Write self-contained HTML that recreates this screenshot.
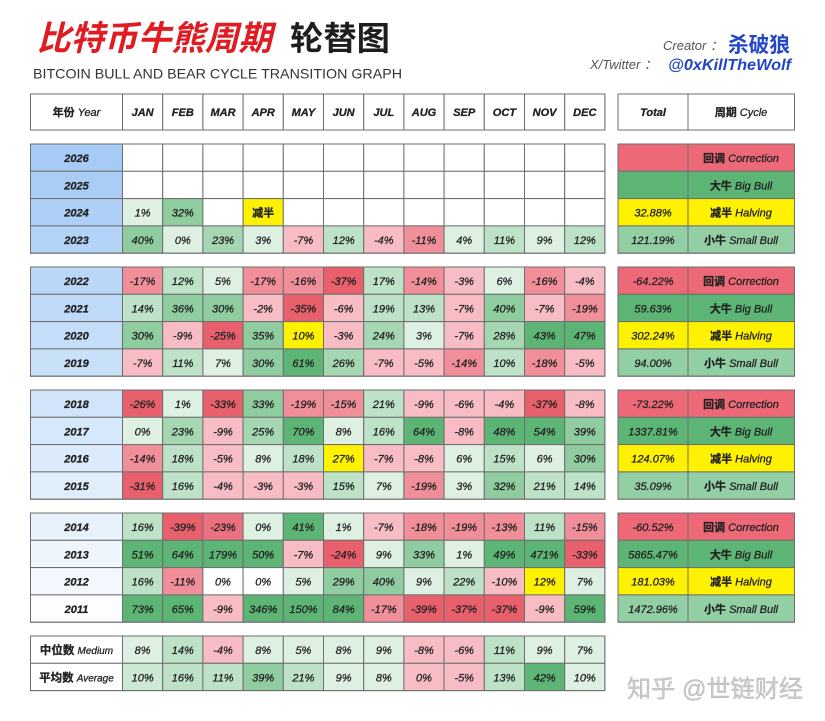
<!DOCTYPE html>
<html><head><meta charset="utf-8">
<style>
html,body{margin:0;padding:0;background:#fff;}
svg{display:block;}
text{font-family:"Liberation Sans","Noto Sans CJK SC",sans-serif;font-size:11px;font-style:italic;fill:#222;text-anchor:middle;}
g text{stroke:#222;stroke-width:0.28px;}
.b{font-weight:bold;}
.n{font-style:normal;font-weight:bold;}
rect{stroke:#6e6e6e;stroke-width:1;}
.w{fill:#fff}.vg{fill:#ddf0e2}.lg{fill:#bde2c7}.lm{fill:#a6d7b3}.mg{fill:#8fcc9f}.sg{fill:#5cb574}
.lp{fill:#f8bcc4}.mp{fill:#f08f9a}.sr{fill:#e9606d}.y{fill:#fff200}
.crr{fill:#ed6977}.big{fill:#5cb574}.sm{fill:#93cfa5}
</style></head>
<body>
<svg width="825" height="721" viewBox="0 0 825 721" xmlns="http://www.w3.org/2000/svg">
<!-- Titles -->
<text x="37" y="50" style="font-size:34px;font-weight:bold;fill:#e01b22;text-anchor:start" textLength="235" lengthAdjust="spacingAndGlyphs">比特币牛熊周期</text>
<text x="290" y="50" style="font-size:33px;font-weight:bold;font-style:normal;fill:#1e1e1e;text-anchor:start" textLength="100" lengthAdjust="spacingAndGlyphs">轮替图</text>
<text x="33" y="78.5" style="font-size:14px;font-style:normal;fill:#333;text-anchor:start" textLength="369" lengthAdjust="spacingAndGlyphs">BITCOIN BULL AND BEAR CYCLE TRANSITION GRAPH</text>
<text x="663" y="50" style="font-size:13px;fill:#555;text-anchor:start">Creator ：</text>
<text x="728" y="52" style="font-size:21px;font-weight:bold;font-style:normal;fill:#2347c4;text-anchor:start" textLength="62" lengthAdjust="spacingAndGlyphs">杀破狼</text>
<text x="590" y="69" style="font-size:13px;fill:#555;text-anchor:start">X/Twitter ：</text>
<text x="668" y="70" style="font-size:16px;font-weight:bold;fill:#2347c4;text-anchor:start" textLength="123" lengthAdjust="spacingAndGlyphs">@0xKillTheWolf</text>

<!-- Header row -->
<g transform="translate(0,94)">
<rect class="w" x="30.5" y="0" width="92" height="36"/><text x="76.5" y="22"><tspan class="n">年份</tspan> Year</text>
<rect class="w" x="122.5" y="0" width="40.2" height="36"/><text class="b" x="142.6" y="22">JAN</text>
<rect class="w" x="162.7" y="0" width="40.2" height="36"/><text class="b" x="182.8" y="22">FEB</text>
<rect class="w" x="202.9" y="0" width="40.2" height="36"/><text class="b" x="223" y="22">MAR</text>
<rect class="w" x="243.1" y="0" width="40.2" height="36"/><text class="b" x="263.2" y="22">APR</text>
<rect class="w" x="283.3" y="0" width="40.2" height="36"/><text class="b" x="303.4" y="22">MAY</text>
<rect class="w" x="323.5" y="0" width="40.2" height="36"/><text class="b" x="343.6" y="22">JUN</text>
<rect class="w" x="363.7" y="0" width="40.2" height="36"/><text class="b" x="383.8" y="22">JUL</text>
<rect class="w" x="403.9" y="0" width="40.2" height="36"/><text class="b" x="424" y="22">AUG</text>
<rect class="w" x="444.1" y="0" width="40.2" height="36"/><text class="b" x="464.2" y="22">SEP</text>
<rect class="w" x="484.3" y="0" width="40.2" height="36"/><text class="b" x="504.4" y="22">OCT</text>
<rect class="w" x="524.5" y="0" width="40.2" height="36"/><text class="b" x="544.6" y="22">NOV</text>
<rect class="w" x="564.7" y="0" width="40.2" height="36"/><text class="b" x="584.8" y="22">DEC</text>
<rect class="w" x="618" y="0" width="70" height="36"/><text class="b" x="653" y="22">Total</text>
<rect class="w" x="688" y="0" width="106.5" height="36"/><text x="741" y="22"><tspan class="n">周期</tspan> Cycle</text>
</g>

<!-- 2026 -->
<g transform="translate(0,144)">
<rect style="fill:#a6cbf5" x="30.5" y="0" width="92" height="27.3"/><text class="b" x="76.5" y="18">2026</text>
<rect class="w" x="122.5" y="0" width="40.2" height="27.3"/><rect class="w" x="162.7" y="0" width="40.2" height="27.3"/><rect class="w" x="202.9" y="0" width="40.2" height="27.3"/><rect class="w" x="243.1" y="0" width="40.2" height="27.3"/><rect class="w" x="283.3" y="0" width="40.2" height="27.3"/><rect class="w" x="323.5" y="0" width="40.2" height="27.3"/><rect class="w" x="363.7" y="0" width="40.2" height="27.3"/><rect class="w" x="403.9" y="0" width="40.2" height="27.3"/><rect class="w" x="444.1" y="0" width="40.2" height="27.3"/><rect class="w" x="484.3" y="0" width="40.2" height="27.3"/><rect class="w" x="524.5" y="0" width="40.2" height="27.3"/><rect class="w" x="564.7" y="0" width="40.2" height="27.3"/>
<rect class="crr" x="618" y="0" width="70" height="27.3"/>
<rect class="crr" x="688" y="0" width="106.5" height="27.3"/><text x="741" y="18"><tspan class="n">回调</tspan> Correction</text>
</g>
<!-- 2025 -->
<g transform="translate(0,171.3)">
<rect style="fill:#aacdf5" x="30.5" y="0" width="92" height="27.3"/><text class="b" x="76.5" y="18">2025</text>
<rect class="w" x="122.5" y="0" width="40.2" height="27.3"/><rect class="w" x="162.7" y="0" width="40.2" height="27.3"/><rect class="w" x="202.9" y="0" width="40.2" height="27.3"/><rect class="w" x="243.1" y="0" width="40.2" height="27.3"/><rect class="w" x="283.3" y="0" width="40.2" height="27.3"/><rect class="w" x="323.5" y="0" width="40.2" height="27.3"/><rect class="w" x="363.7" y="0" width="40.2" height="27.3"/><rect class="w" x="403.9" y="0" width="40.2" height="27.3"/><rect class="w" x="444.1" y="0" width="40.2" height="27.3"/><rect class="w" x="484.3" y="0" width="40.2" height="27.3"/><rect class="w" x="524.5" y="0" width="40.2" height="27.3"/><rect class="w" x="564.7" y="0" width="40.2" height="27.3"/>
<rect class="big" x="618" y="0" width="70" height="27.3"/>
<rect class="big" x="688" y="0" width="106.5" height="27.3"/><text x="741" y="18"><tspan class="n">大牛</tspan> Big Bull</text>
</g>
<!-- 2024 -->
<g transform="translate(0,198.6)">
<rect style="fill:#aecff6" x="30.5" y="0" width="92" height="27.3"/><text class="b" x="76.5" y="18">2024</text>
<rect class="vg" x="122.5" y="0" width="40.2" height="27.3"/><text x="142.6" y="18">1%</text>
<rect class="mg" x="162.7" y="0" width="40.2" height="27.3"/><text x="182.8" y="18">32%</text>
<rect class="w" x="202.9" y="0" width="40.2" height="27.3"/>
<rect class="y" x="243.1" y="0" width="40.2" height="27.3"/><text class="n" x="263.2" y="18">减半</text>
<rect class="w" x="283.3" y="0" width="40.2" height="27.3"/><rect class="w" x="323.5" y="0" width="40.2" height="27.3"/><rect class="w" x="363.7" y="0" width="40.2" height="27.3"/><rect class="w" x="403.9" y="0" width="40.2" height="27.3"/><rect class="w" x="444.1" y="0" width="40.2" height="27.3"/><rect class="w" x="484.3" y="0" width="40.2" height="27.3"/><rect class="w" x="524.5" y="0" width="40.2" height="27.3"/><rect class="w" x="564.7" y="0" width="40.2" height="27.3"/>
<rect class="y" x="618" y="0" width="70" height="27.3"/><text x="653" y="18">32.88%</text>
<rect class="y" x="688" y="0" width="106.5" height="27.3"/><text x="741" y="18"><tspan class="n">减半</tspan> Halving</text>
</g>
<!-- 2023 -->
<g transform="translate(0,225.9)">
<rect style="fill:#b3d3f7" x="30.5" y="0" width="92" height="27.3"/><text class="b" x="76.5" y="18">2023</text>
<rect class="mg" x="122.5" y="0" width="40.2" height="27.3"/><text x="142.6" y="18">40%</text>
<rect class="vg" x="162.7" y="0" width="40.2" height="27.3"/><text x="182.8" y="18">0%</text>
<rect class="lm" x="202.9" y="0" width="40.2" height="27.3"/><text x="223" y="18">23%</text>
<rect class="vg" x="243.1" y="0" width="40.2" height="27.3"/><text x="263.2" y="18">3%</text>
<rect class="lp" x="283.3" y="0" width="40.2" height="27.3"/><text x="303.4" y="18">-7%</text>
<rect class="lg" x="323.5" y="0" width="40.2" height="27.3"/><text x="343.6" y="18">12%</text>
<rect class="lp" x="363.7" y="0" width="40.2" height="27.3"/><text x="383.8" y="18">-4%</text>
<rect class="mp" x="403.9" y="0" width="40.2" height="27.3"/><text x="424" y="18">-11%</text>
<rect class="vg" x="444.1" y="0" width="40.2" height="27.3"/><text x="464.2" y="18">4%</text>
<rect class="lg" x="484.3" y="0" width="40.2" height="27.3"/><text x="504.4" y="18">11%</text>
<rect class="vg" x="524.5" y="0" width="40.2" height="27.3"/><text x="544.6" y="18">9%</text>
<rect class="lg" x="564.7" y="0" width="40.2" height="27.3"/><text x="584.8" y="18">12%</text>
<rect class="sm" x="618" y="0" width="70" height="27.3"/><text x="653" y="18">121.19%</text>
<rect class="sm" x="688" y="0" width="106.5" height="27.3"/><text x="741" y="18"><tspan class="n">小牛</tspan> Small Bull</text>
</g>

<!-- 2022 -->
<g transform="translate(0,267)">
<rect style="fill:#bad7f7" x="30.5" y="0" width="92" height="27.3"/><text class="b" x="76.5" y="18">2022</text>
<rect class="mp" x="122.5" y="0" width="40.2" height="27.3"/><text x="142.6" y="18">-17%</text>
<rect class="lg" x="162.7" y="0" width="40.2" height="27.3"/><text x="182.8" y="18">12%</text>
<rect class="vg" x="202.9" y="0" width="40.2" height="27.3"/><text x="223" y="18">5%</text>
<rect class="mp" x="243.1" y="0" width="40.2" height="27.3"/><text x="263.2" y="18">-17%</text>
<rect class="mp" x="283.3" y="0" width="40.2" height="27.3"/><text x="303.4" y="18">-16%</text>
<rect class="sr" x="323.5" y="0" width="40.2" height="27.3"/><text x="343.6" y="18">-37%</text>
<rect class="lg" x="363.7" y="0" width="40.2" height="27.3"/><text x="383.8" y="18">17%</text>
<rect class="mp" x="403.9" y="0" width="40.2" height="27.3"/><text x="424" y="18">-14%</text>
<rect class="lp" x="444.1" y="0" width="40.2" height="27.3"/><text x="464.2" y="18">-3%</text>
<rect class="vg" x="484.3" y="0" width="40.2" height="27.3"/><text x="504.4" y="18">6%</text>
<rect class="mp" x="524.5" y="0" width="40.2" height="27.3"/><text x="544.6" y="18">-16%</text>
<rect class="lp" x="564.7" y="0" width="40.2" height="27.3"/><text x="584.8" y="18">-4%</text>
<rect class="crr" x="618" y="0" width="70" height="27.3"/><text x="653" y="18">-64.22%</text>
<rect class="crr" x="688" y="0" width="106.5" height="27.3"/><text x="741" y="18"><tspan class="n">回调</tspan> Correction</text>
</g>
<!-- 2021 -->
<g transform="translate(0,294.3)">
<rect style="fill:#bfdaf8" x="30.5" y="0" width="92" height="27.3"/><text class="b" x="76.5" y="18">2021</text>
<rect class="lg" x="122.5" y="0" width="40.2" height="27.3"/><text x="142.6" y="18">14%</text>
<rect class="mg" x="162.7" y="0" width="40.2" height="27.3"/><text x="182.8" y="18">36%</text>
<rect class="mg" x="202.9" y="0" width="40.2" height="27.3"/><text x="223" y="18">30%</text>
<rect class="lp" x="243.1" y="0" width="40.2" height="27.3"/><text x="263.2" y="18">-2%</text>
<rect class="sr" x="283.3" y="0" width="40.2" height="27.3"/><text x="303.4" y="18">-35%</text>
<rect class="lp" x="323.5" y="0" width="40.2" height="27.3"/><text x="343.6" y="18">-6%</text>
<rect class="lg" x="363.7" y="0" width="40.2" height="27.3"/><text x="383.8" y="18">19%</text>
<rect class="lg" x="403.9" y="0" width="40.2" height="27.3"/><text x="424" y="18">13%</text>
<rect class="lp" x="444.1" y="0" width="40.2" height="27.3"/><text x="464.2" y="18">-7%</text>
<rect class="mg" x="484.3" y="0" width="40.2" height="27.3"/><text x="504.4" y="18">40%</text>
<rect class="lp" x="524.5" y="0" width="40.2" height="27.3"/><text x="544.6" y="18">-7%</text>
<rect class="mp" x="564.7" y="0" width="40.2" height="27.3"/><text x="584.8" y="18">-19%</text>
<rect class="big" x="618" y="0" width="70" height="27.3"/><text x="653" y="18">59.63%</text>
<rect class="big" x="688" y="0" width="106.5" height="27.3"/><text x="741" y="18"><tspan class="n">大牛</tspan> Big Bull</text>
</g>
<!-- 2020 -->
<g transform="translate(0,321.6)">
<rect style="fill:#c4ddf8" x="30.5" y="0" width="92" height="27.3"/><text class="b" x="76.5" y="18">2020</text>
<rect class="mg" x="122.5" y="0" width="40.2" height="27.3"/><text x="142.6" y="18">30%</text>
<rect class="lp" x="162.7" y="0" width="40.2" height="27.3"/><text x="182.8" y="18">-9%</text>
<rect class="sr" x="202.9" y="0" width="40.2" height="27.3"/><text x="223" y="18">-25%</text>
<rect class="mg" x="243.1" y="0" width="40.2" height="27.3"/><text x="263.2" y="18">35%</text>
<rect class="y" x="283.3" y="0" width="40.2" height="27.3"/><text x="303.4" y="18">10%</text>
<rect class="lp" x="323.5" y="0" width="40.2" height="27.3"/><text x="343.6" y="18">-3%</text>
<rect class="lm" x="363.7" y="0" width="40.2" height="27.3"/><text x="383.8" y="18">24%</text>
<rect class="vg" x="403.9" y="0" width="40.2" height="27.3"/><text x="424" y="18">3%</text>
<rect class="lp" x="444.1" y="0" width="40.2" height="27.3"/><text x="464.2" y="18">-7%</text>
<rect class="lm" x="484.3" y="0" width="40.2" height="27.3"/><text x="504.4" y="18">28%</text>
<rect class="sg" x="524.5" y="0" width="40.2" height="27.3"/><text x="544.6" y="18">43%</text>
<rect class="sg" x="564.7" y="0" width="40.2" height="27.3"/><text x="584.8" y="18">47%</text>
<rect class="y" x="618" y="0" width="70" height="27.3"/><text x="653" y="18">302.24%</text>
<rect class="y" x="688" y="0" width="106.5" height="27.3"/><text x="741" y="18"><tspan class="n">减半</tspan> Halving</text>
</g>
<!-- 2019 -->
<g transform="translate(0,348.9)">
<rect style="fill:#c9e0f9" x="30.5" y="0" width="92" height="27.3"/><text class="b" x="76.5" y="18">2019</text>
<rect class="lp" x="122.5" y="0" width="40.2" height="27.3"/><text x="142.6" y="18">-7%</text>
<rect class="lg" x="162.7" y="0" width="40.2" height="27.3"/><text x="182.8" y="18">11%</text>
<rect class="vg" x="202.9" y="0" width="40.2" height="27.3"/><text x="223" y="18">7%</text>
<rect class="mg" x="243.1" y="0" width="40.2" height="27.3"/><text x="263.2" y="18">30%</text>
<rect class="sg" x="283.3" y="0" width="40.2" height="27.3"/><text x="303.4" y="18">61%</text>
<rect class="lm" x="323.5" y="0" width="40.2" height="27.3"/><text x="343.6" y="18">26%</text>
<rect class="lp" x="363.7" y="0" width="40.2" height="27.3"/><text x="383.8" y="18">-7%</text>
<rect class="lp" x="403.9" y="0" width="40.2" height="27.3"/><text x="424" y="18">-5%</text>
<rect class="mp" x="444.1" y="0" width="40.2" height="27.3"/><text x="464.2" y="18">-14%</text>
<rect class="lg" x="484.3" y="0" width="40.2" height="27.3"/><text x="504.4" y="18">10%</text>
<rect class="mp" x="524.5" y="0" width="40.2" height="27.3"/><text x="544.6" y="18">-18%</text>
<rect class="lp" x="564.7" y="0" width="40.2" height="27.3"/><text x="584.8" y="18">-5%</text>
<rect class="sm" x="618" y="0" width="70" height="27.3"/><text x="653" y="18">94.00%</text>
<rect class="sm" x="688" y="0" width="106.5" height="27.3"/><text x="741" y="18"><tspan class="n">小牛</tspan> Small Bull</text>
</g>

<!-- 2018 -->
<g transform="translate(0,390)">
<rect style="fill:#d1e4fa" x="30.5" y="0" width="92" height="27.3"/><text class="b" x="76.5" y="18">2018</text>
<rect class="sr" x="122.5" y="0" width="40.2" height="27.3"/><text x="142.6" y="18">-26%</text>
<rect class="vg" x="162.7" y="0" width="40.2" height="27.3"/><text x="182.8" y="18">1%</text>
<rect class="sr" x="202.9" y="0" width="40.2" height="27.3"/><text x="223" y="18">-33%</text>
<rect class="mg" x="243.1" y="0" width="40.2" height="27.3"/><text x="263.2" y="18">33%</text>
<rect class="mp" x="283.3" y="0" width="40.2" height="27.3"/><text x="303.4" y="18">-19%</text>
<rect class="mp" x="323.5" y="0" width="40.2" height="27.3"/><text x="343.6" y="18">-15%</text>
<rect class="lg" x="363.7" y="0" width="40.2" height="27.3"/><text x="383.8" y="18">21%</text>
<rect class="lp" x="403.9" y="0" width="40.2" height="27.3"/><text x="424" y="18">-9%</text>
<rect class="lp" x="444.1" y="0" width="40.2" height="27.3"/><text x="464.2" y="18">-6%</text>
<rect class="lp" x="484.3" y="0" width="40.2" height="27.3"/><text x="504.4" y="18">-4%</text>
<rect class="sr" x="524.5" y="0" width="40.2" height="27.3"/><text x="544.6" y="18">-37%</text>
<rect class="lp" x="564.7" y="0" width="40.2" height="27.3"/><text x="584.8" y="18">-8%</text>
<rect class="crr" x="618" y="0" width="70" height="27.3"/><text x="653" y="18">-73.22%</text>
<rect class="crr" x="688" y="0" width="106.5" height="27.3"/><text x="741" y="18"><tspan class="n">回调</tspan> Correction</text>
</g>
<!-- 2017 -->
<g transform="translate(0,417.3)">
<rect style="fill:#d6e8fb" x="30.5" y="0" width="92" height="27.3"/><text class="b" x="76.5" y="18">2017</text>
<rect class="vg" x="122.5" y="0" width="40.2" height="27.3"/><text x="142.6" y="18">0%</text>
<rect class="lm" x="162.7" y="0" width="40.2" height="27.3"/><text x="182.8" y="18">23%</text>
<rect class="lp" x="202.9" y="0" width="40.2" height="27.3"/><text x="223" y="18">-9%</text>
<rect class="lm" x="243.1" y="0" width="40.2" height="27.3"/><text x="263.2" y="18">25%</text>
<rect class="sg" x="283.3" y="0" width="40.2" height="27.3"/><text x="303.4" y="18">70%</text>
<rect class="vg" x="323.5" y="0" width="40.2" height="27.3"/><text x="343.6" y="18">8%</text>
<rect class="lg" x="363.7" y="0" width="40.2" height="27.3"/><text x="383.8" y="18">16%</text>
<rect class="sg" x="403.9" y="0" width="40.2" height="27.3"/><text x="424" y="18">64%</text>
<rect class="lp" x="444.1" y="0" width="40.2" height="27.3"/><text x="464.2" y="18">-8%</text>
<rect class="sg" x="484.3" y="0" width="40.2" height="27.3"/><text x="504.4" y="18">48%</text>
<rect class="sg" x="524.5" y="0" width="40.2" height="27.3"/><text x="544.6" y="18">54%</text>
<rect class="mg" x="564.7" y="0" width="40.2" height="27.3"/><text x="584.8" y="18">39%</text>
<rect class="big" x="618" y="0" width="70" height="27.3"/><text x="653" y="18">1337.81%</text>
<rect class="big" x="688" y="0" width="106.5" height="27.3"/><text x="741" y="18"><tspan class="n">大牛</tspan> Big Bull</text>
</g>
<!-- 2016 -->
<g transform="translate(0,444.6)">
<rect style="fill:#dbebfb" x="30.5" y="0" width="92" height="27.3"/><text class="b" x="76.5" y="18">2016</text>
<rect class="mp" x="122.5" y="0" width="40.2" height="27.3"/><text x="142.6" y="18">-14%</text>
<rect class="lg" x="162.7" y="0" width="40.2" height="27.3"/><text x="182.8" y="18">18%</text>
<rect class="lp" x="202.9" y="0" width="40.2" height="27.3"/><text x="223" y="18">-5%</text>
<rect class="vg" x="243.1" y="0" width="40.2" height="27.3"/><text x="263.2" y="18">8%</text>
<rect class="lg" x="283.3" y="0" width="40.2" height="27.3"/><text x="303.4" y="18">18%</text>
<rect class="y" x="323.5" y="0" width="40.2" height="27.3"/><text x="343.6" y="18">27%</text>
<rect class="lp" x="363.7" y="0" width="40.2" height="27.3"/><text x="383.8" y="18">-7%</text>
<rect class="lp" x="403.9" y="0" width="40.2" height="27.3"/><text x="424" y="18">-8%</text>
<rect class="vg" x="444.1" y="0" width="40.2" height="27.3"/><text x="464.2" y="18">6%</text>
<rect class="lg" x="484.3" y="0" width="40.2" height="27.3"/><text x="504.4" y="18">15%</text>
<rect class="vg" x="524.5" y="0" width="40.2" height="27.3"/><text x="544.6" y="18">6%</text>
<rect class="mg" x="564.7" y="0" width="40.2" height="27.3"/><text x="584.8" y="18">30%</text>
<rect class="y" x="618" y="0" width="70" height="27.3"/><text x="653" y="18">124.07%</text>
<rect class="y" x="688" y="0" width="106.5" height="27.3"/><text x="741" y="18"><tspan class="n">减半</tspan> Halving</text>
</g>
<!-- 2015 -->
<g transform="translate(0,471.9)">
<rect style="fill:#e0eefc" x="30.5" y="0" width="92" height="27.3"/><text class="b" x="76.5" y="18">2015</text>
<rect class="sr" x="122.5" y="0" width="40.2" height="27.3"/><text x="142.6" y="18">-31%</text>
<rect class="lg" x="162.7" y="0" width="40.2" height="27.3"/><text x="182.8" y="18">16%</text>
<rect class="lp" x="202.9" y="0" width="40.2" height="27.3"/><text x="223" y="18">-4%</text>
<rect class="lp" x="243.1" y="0" width="40.2" height="27.3"/><text x="263.2" y="18">-3%</text>
<rect class="lp" x="283.3" y="0" width="40.2" height="27.3"/><text x="303.4" y="18">-3%</text>
<rect class="lg" x="323.5" y="0" width="40.2" height="27.3"/><text x="343.6" y="18">15%</text>
<rect class="vg" x="363.7" y="0" width="40.2" height="27.3"/><text x="383.8" y="18">7%</text>
<rect class="mp" x="403.9" y="0" width="40.2" height="27.3"/><text x="424" y="18">-19%</text>
<rect class="vg" x="444.1" y="0" width="40.2" height="27.3"/><text x="464.2" y="18">3%</text>
<rect class="mg" x="484.3" y="0" width="40.2" height="27.3"/><text x="504.4" y="18">32%</text>
<rect class="lg" x="524.5" y="0" width="40.2" height="27.3"/><text x="544.6" y="18">21%</text>
<rect class="lg" x="564.7" y="0" width="40.2" height="27.3"/><text x="584.8" y="18">14%</text>
<rect class="sm" x="618" y="0" width="70" height="27.3"/><text x="653" y="18">35.09%</text>
<rect class="sm" x="688" y="0" width="106.5" height="27.3"/><text x="741" y="18"><tspan class="n">小牛</tspan> Small Bull</text>
</g>

<!-- 2014 -->
<g transform="translate(0,513)">
<rect style="fill:#e8f2fd" x="30.5" y="0" width="92" height="27.3"/><text class="b" x="76.5" y="18">2014</text>
<rect class="lg" x="122.5" y="0" width="40.2" height="27.3"/><text x="142.6" y="18">16%</text>
<rect class="sr" x="162.7" y="0" width="40.2" height="27.3"/><text x="182.8" y="18">-39%</text>
<rect class="sr" x="202.9" y="0" width="40.2" height="27.3" style="fill:#ec7180"/><text x="223" y="18">-23%</text>
<rect class="vg" x="243.1" y="0" width="40.2" height="27.3"/><text x="263.2" y="18">0%</text>
<rect class="sg" x="283.3" y="0" width="40.2" height="27.3"/><text x="303.4" y="18">41%</text>
<rect class="vg" x="323.5" y="0" width="40.2" height="27.3"/><text x="343.6" y="18">1%</text>
<rect class="lp" x="363.7" y="0" width="40.2" height="27.3"/><text x="383.8" y="18">-7%</text>
<rect class="mp" x="403.9" y="0" width="40.2" height="27.3"/><text x="424" y="18">-18%</text>
<rect class="mp" x="444.1" y="0" width="40.2" height="27.3"/><text x="464.2" y="18">-19%</text>
<rect class="mp" x="484.3" y="0" width="40.2" height="27.3"/><text x="504.4" y="18">-13%</text>
<rect class="lg" x="524.5" y="0" width="40.2" height="27.3"/><text x="544.6" y="18">11%</text>
<rect class="mp" x="564.7" y="0" width="40.2" height="27.3"/><text x="584.8" y="18">-15%</text>
<rect class="crr" x="618" y="0" width="70" height="27.3"/><text x="653" y="18">-60.52%</text>
<rect class="crr" x="688" y="0" width="106.5" height="27.3"/><text x="741" y="18"><tspan class="n">回调</tspan> Correction</text>
</g>
<!-- 2013 -->
<g transform="translate(0,540.3)">
<rect style="fill:#eef5fd" x="30.5" y="0" width="92" height="27.3"/><text class="b" x="76.5" y="18">2013</text>
<rect class="sg" x="122.5" y="0" width="40.2" height="27.3"/><text x="142.6" y="18">51%</text>
<rect class="sg" x="162.7" y="0" width="40.2" height="27.3"/><text x="182.8" y="18">64%</text>
<rect class="sg" x="202.9" y="0" width="40.2" height="27.3"/><text x="223" y="18">179%</text>
<rect class="sg" x="243.1" y="0" width="40.2" height="27.3"/><text x="263.2" y="18">50%</text>
<rect class="lp" x="283.3" y="0" width="40.2" height="27.3"/><text x="303.4" y="18">-7%</text>
<rect class="sr" x="323.5" y="0" width="40.2" height="27.3"/><text x="343.6" y="18">-24%</text>
<rect class="vg" x="363.7" y="0" width="40.2" height="27.3"/><text x="383.8" y="18">9%</text>
<rect class="mg" x="403.9" y="0" width="40.2" height="27.3"/><text x="424" y="18">33%</text>
<rect class="vg" x="444.1" y="0" width="40.2" height="27.3"/><text x="464.2" y="18">1%</text>
<rect class="sg" x="484.3" y="0" width="40.2" height="27.3"/><text x="504.4" y="18">49%</text>
<rect class="sg" x="524.5" y="0" width="40.2" height="27.3"/><text x="544.6" y="18">471%</text>
<rect class="sr" x="564.7" y="0" width="40.2" height="27.3"/><text x="584.8" y="18">-33%</text>
<rect class="big" x="618" y="0" width="70" height="27.3"/><text x="653" y="18">5865.47%</text>
<rect class="big" x="688" y="0" width="106.5" height="27.3"/><text x="741" y="18"><tspan class="n">大牛</tspan> Big Bull</text>
</g>
<!-- 2012 -->
<g transform="translate(0,567.6)">
<rect style="fill:#f4f8fe" x="30.5" y="0" width="92" height="27.3"/><text class="b" x="76.5" y="18">2012</text>
<rect class="lg" x="122.5" y="0" width="40.2" height="27.3"/><text x="142.6" y="18">16%</text>
<rect class="mp" x="162.7" y="0" width="40.2" height="27.3"/><text x="182.8" y="18">-11%</text>
<rect class="w" x="202.9" y="0" width="40.2" height="27.3"/><text x="223" y="18">0%</text>
<rect class="w" x="243.1" y="0" width="40.2" height="27.3"/><text x="263.2" y="18">0%</text>
<rect class="vg" x="283.3" y="0" width="40.2" height="27.3"/><text x="303.4" y="18">5%</text>
<rect class="mg" x="323.5" y="0" width="40.2" height="27.3"/><text x="343.6" y="18">29%</text>
<rect class="mg" x="363.7" y="0" width="40.2" height="27.3"/><text x="383.8" y="18">40%</text>
<rect class="vg" x="403.9" y="0" width="40.2" height="27.3"/><text x="424" y="18">9%</text>
<rect class="lg" x="444.1" y="0" width="40.2" height="27.3"/><text x="464.2" y="18">22%</text>
<rect class="lp" x="484.3" y="0" width="40.2" height="27.3"/><text x="504.4" y="18">-10%</text>
<rect class="y" x="524.5" y="0" width="40.2" height="27.3"/><text x="544.6" y="18">12%</text>
<rect class="vg" x="564.7" y="0" width="40.2" height="27.3"/><text x="584.8" y="18">7%</text>
<rect class="y" x="618" y="0" width="70" height="27.3"/><text x="653" y="18">181.03%</text>
<rect class="y" x="688" y="0" width="106.5" height="27.3"/><text x="741" y="18"><tspan class="n">减半</tspan> Halving</text>
</g>
<!-- 2011 -->
<g transform="translate(0,594.9)">
<rect style="fill:#fbfdff" x="30.5" y="0" width="92" height="27.3"/><text class="b" x="76.5" y="18">2011</text>
<rect class="sg" x="122.5" y="0" width="40.2" height="27.3"/><text x="142.6" y="18">73%</text>
<rect class="sg" x="162.7" y="0" width="40.2" height="27.3"/><text x="182.8" y="18">65%</text>
<rect class="lp" x="202.9" y="0" width="40.2" height="27.3"/><text x="223" y="18">-9%</text>
<rect class="sg" x="243.1" y="0" width="40.2" height="27.3"/><text x="263.2" y="18">346%</text>
<rect class="sg" x="283.3" y="0" width="40.2" height="27.3"/><text x="303.4" y="18">150%</text>
<rect class="sg" x="323.5" y="0" width="40.2" height="27.3"/><text x="343.6" y="18">84%</text>
<rect class="mp" x="363.7" y="0" width="40.2" height="27.3"/><text x="383.8" y="18">-17%</text>
<rect class="sr" x="403.9" y="0" width="40.2" height="27.3"/><text x="424" y="18">-39%</text>
<rect class="sr" x="444.1" y="0" width="40.2" height="27.3"/><text x="464.2" y="18">-37%</text>
<rect class="sr" x="484.3" y="0" width="40.2" height="27.3"/><text x="504.4" y="18">-37%</text>
<rect class="lp" x="524.5" y="0" width="40.2" height="27.3"/><text x="544.6" y="18">-9%</text>
<rect class="sg" x="564.7" y="0" width="40.2" height="27.3"/><text x="584.8" y="18">59%</text>
<rect class="sm" x="618" y="0" width="70" height="27.3"/><text x="653" y="18">1472.96%</text>
<rect class="sm" x="688" y="0" width="106.5" height="27.3"/><text x="741" y="18"><tspan class="n">小牛</tspan> Small Bull</text>
</g>

<!-- Medium -->
<g transform="translate(0,636)">
<rect class="w" x="30.5" y="0" width="92" height="27.3"/><text x="76.5" y="18"><tspan class="n" style="font-size:11.5px">中位数</tspan> <tspan style="font-size:10px">Medium</tspan></text>
<rect class="vg" x="122.5" y="0" width="40.2" height="27.3"/><text x="142.6" y="18">8%</text>
<rect class="lg" x="162.7" y="0" width="40.2" height="27.3"/><text x="182.8" y="18">14%</text>
<rect class="lp" x="202.9" y="0" width="40.2" height="27.3"/><text x="223" y="18">-4%</text>
<rect class="vg" x="243.1" y="0" width="40.2" height="27.3"/><text x="263.2" y="18">8%</text>
<rect class="vg" x="283.3" y="0" width="40.2" height="27.3"/><text x="303.4" y="18">5%</text>
<rect class="vg" x="323.5" y="0" width="40.2" height="27.3"/><text x="343.6" y="18">8%</text>
<rect class="vg" x="363.7" y="0" width="40.2" height="27.3"/><text x="383.8" y="18">9%</text>
<rect class="lp" x="403.9" y="0" width="40.2" height="27.3"/><text x="424" y="18">-8%</text>
<rect class="lp" x="444.1" y="0" width="40.2" height="27.3"/><text x="464.2" y="18">-6%</text>
<rect class="lg" x="484.3" y="0" width="40.2" height="27.3"/><text x="504.4" y="18">11%</text>
<rect class="vg" x="524.5" y="0" width="40.2" height="27.3"/><text x="544.6" y="18">9%</text>
<rect class="vg" x="564.7" y="0" width="40.2" height="27.3"/><text x="584.8" y="18">7%</text>
</g>
<!-- Average -->
<g transform="translate(0,663.3)">
<rect class="w" x="30.5" y="0" width="92" height="27.3"/><text x="76.5" y="18"><tspan class="n" style="font-size:11.5px">平均数</tspan> <tspan style="font-size:10px">Average</tspan></text>
<rect class="lg" x="122.5" y="0" width="40.2" height="27.3" style="fill:#cde9d4"/><text x="142.6" y="18">10%</text>
<rect class="lg" x="162.7" y="0" width="40.2" height="27.3"/><text x="182.8" y="18">16%</text>
<rect class="lg" x="202.9" y="0" width="40.2" height="27.3"/><text x="223" y="18">11%</text>
<rect class="mg" x="243.1" y="0" width="40.2" height="27.3"/><text x="263.2" y="18">39%</text>
<rect class="lg" x="283.3" y="0" width="40.2" height="27.3"/><text x="303.4" y="18">21%</text>
<rect class="vg" x="323.5" y="0" width="40.2" height="27.3"/><text x="343.6" y="18">9%</text>
<rect class="vg" x="363.7" y="0" width="40.2" height="27.3"/><text x="383.8" y="18">8%</text>
<rect class="lp" x="403.9" y="0" width="40.2" height="27.3"/><text x="424" y="18">0%</text>
<rect class="lp" x="444.1" y="0" width="40.2" height="27.3"/><text x="464.2" y="18">-5%</text>
<rect class="lg" x="484.3" y="0" width="40.2" height="27.3"/><text x="504.4" y="18">13%</text>
<rect class="sg" x="524.5" y="0" width="40.2" height="27.3"/><text x="544.6" y="18">42%</text>
<rect class="vg" x="564.7" y="0" width="40.2" height="27.3"/><text x="584.8" y="18">10%</text>
</g>

<!-- group outlines -->
<g style="fill:none;stroke:#555;stroke-width:1.2">
<rect x="30.5" y="94" width="574.4" height="36" style="fill:none"/>
<rect x="618" y="94" width="176.5" height="36" style="fill:none"/>
<rect x="30.5" y="144" width="574.4" height="109.2" style="fill:none"/>
<rect x="618" y="144" width="176.5" height="109.2" style="fill:none"/>
<rect x="30.5" y="267" width="574.4" height="109.2" style="fill:none"/>
<rect x="618" y="267" width="176.5" height="109.2" style="fill:none"/>
<rect x="30.5" y="390" width="574.4" height="109.2" style="fill:none"/>
<rect x="618" y="390" width="176.5" height="109.2" style="fill:none"/>
<rect x="30.5" y="513" width="574.4" height="109.2" style="fill:none"/>
<rect x="618" y="513" width="176.5" height="109.2" style="fill:none"/>
<rect x="30.5" y="636" width="574.4" height="54.6" style="fill:none"/>
</g>

<!-- watermark -->
<text x="627" y="697" style="font-size:24px;font-style:normal;fill:#cbcbcb;stroke:#b5b5b5;stroke-width:0.4;text-anchor:start" textLength="176" lengthAdjust="spacingAndGlyphs">知乎 @世链财经</text>
</svg>
</body></html>
